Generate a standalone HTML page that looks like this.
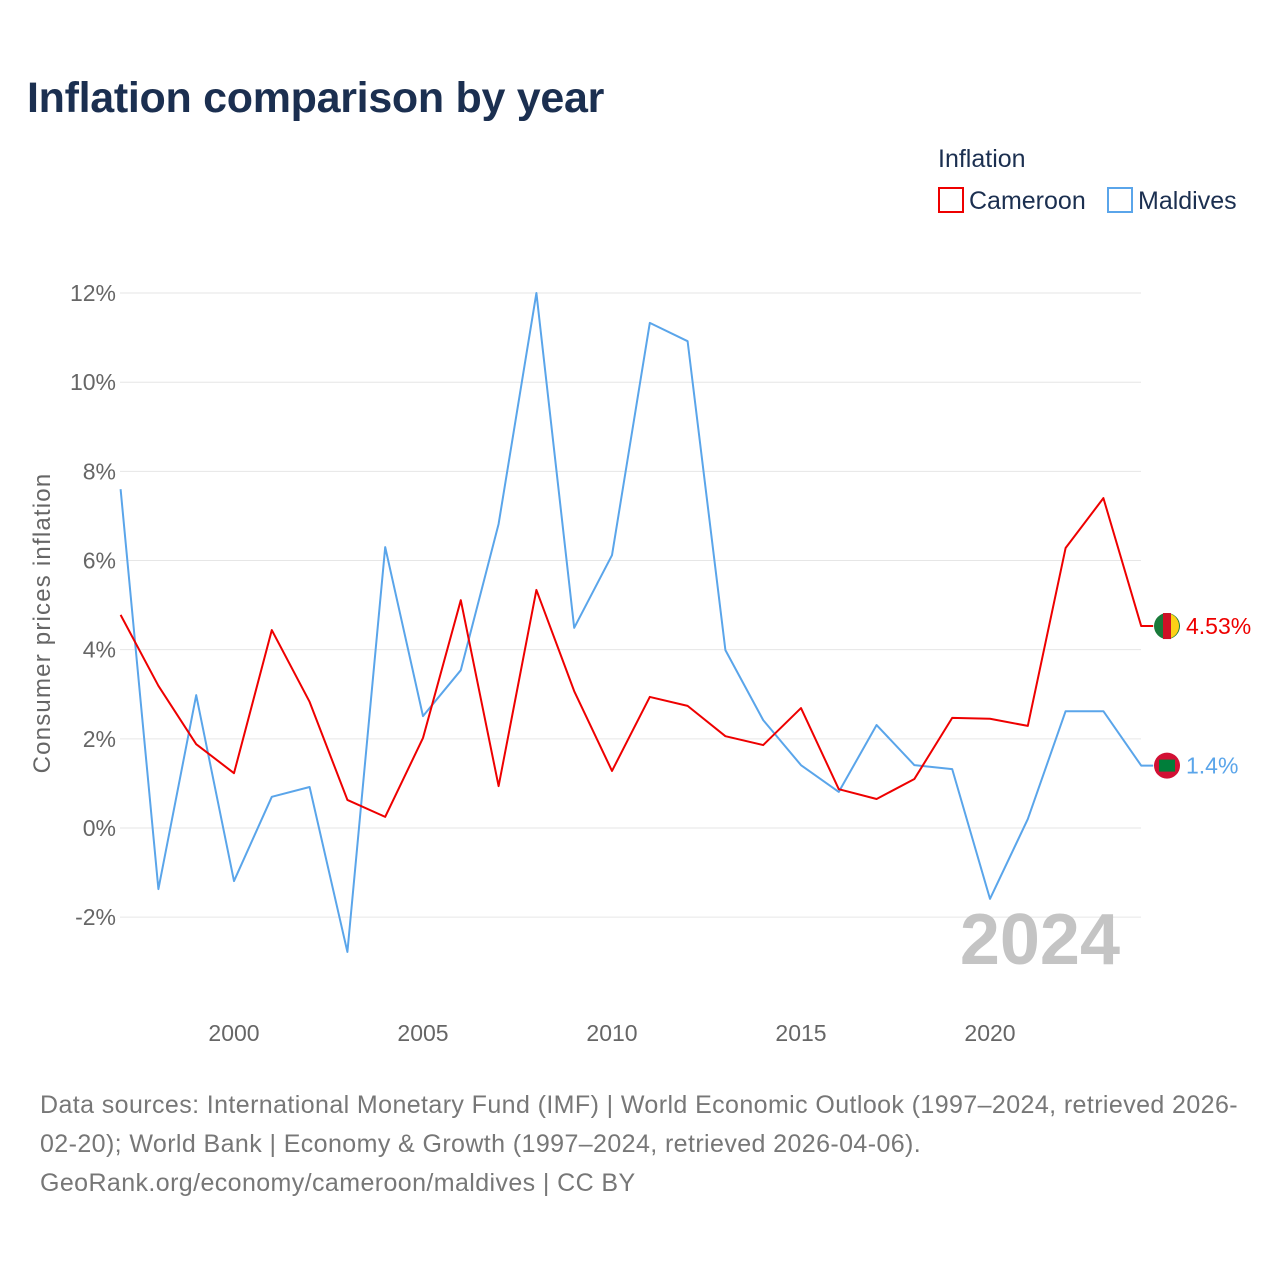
<!DOCTYPE html>
<html><head><meta charset="utf-8"><style>
body{margin:0;background:#fff;width:1280px;height:1280px;overflow:hidden;font-family:"Liberation Sans",sans-serif;}
</style></head><body>
<svg width="1280" height="1280" xmlns="http://www.w3.org/2000/svg">
<text x="27" y="112" font-size="43" font-weight="bold" fill="#1b2f50" letter-spacing="-0.3">Inflation comparison by year</text>
<text x="938" y="167" font-size="25" fill="#1b2f50">Inflation</text>
<g><rect x="939" y="188" width="24" height="24" fill="none" stroke="#ee0000" stroke-width="2"/><text x="969" y="209" font-size="25" fill="#1b2f50">Cameroon</text></g>
<g><rect x="1108" y="188" width="24" height="24" fill="none" stroke="#5aa5ea" stroke-width="2"/><text x="1138" y="209" font-size="25" fill="#1b2f50">Maldives</text></g>
<g id="grid"></g><g id="xt"></g><g id="lines"></g>
<text transform="translate(50,623) rotate(-90)" text-anchor="middle" font-size="24" letter-spacing="1.2" fill="#666">Consumer prices inflation</text>
<text x="1120" y="964" text-anchor="end" font-size="72" font-weight="bold" fill="#c4c4c4">2024</text>
<text font-size="25" letter-spacing="0.4" fill="#777"><tspan x="40" y="1113">Data sources: International Monetary Fund (IMF) | World Economic Outlook (1997–2024, retrieved 2026-</tspan><tspan x="40" y="1152">02-20); World Bank | Economy &amp; Growth (1997–2024, retrieved 2026-04-06).</tspan><tspan x="40" y="1191">GeoRank.org/economy/cameroon/maldives | CC BY</tspan></text>
</svg>
<script>
const years=[1997,1998,1999,2000,2001,2002,2003,2004,2005,2006,2007,2008,2009,2010,2011,2012,2013,2014,2015,2016,2017,2018,2019,2020,2021,2022,2023,2024];
const cameroon=[4.78,3.19,1.88,1.23,4.44,2.83,0.63,0.25,2.02,5.11,0.94,5.34,3.07,1.28,2.94,2.74,2.06,1.86,2.69,0.87,0.65,1.10,2.47,2.45,2.29,6.28,7.40,4.53];
const maldives=[7.60,-1.37,2.98,-1.19,0.70,0.92,-2.78,6.30,2.51,3.54,6.82,12.0,4.49,6.12,11.33,10.92,3.99,2.42,1.41,0.81,2.31,1.41,1.32,-1.59,0.20,2.62,2.62,1.40];
const yTicks=[-2,0,2,4,6,8,10,12];
const xTicks=[2000,2005,2010,2015,2020];
const NS="http://www.w3.org/2000/svg";
const X=v=>120.6+(v-1997)*37.8, Y=v=>828-v*44.58;
function mk(t,a,p){const e=document.createElementNS(NS,t);for(const k in a)e.setAttribute(k,a[k]);p.appendChild(e);return e;}
const g=document.getElementById('grid'),xt=document.getElementById('xt'),L=document.getElementById('lines');
yTicks.forEach(v=>{const l=mk('line',{x1:120,x2:1141,y1:Y(v),y2:Y(v),stroke:'#e6e6e6'},g);


const t=mk('text',{x:116,y:Y(v)+8,'text-anchor':'end','font-size':23,fill:'#666'},g);t.textContent=v+'%';

});
xTicks.forEach(v=>{const t=mk('text',{x:X(v),y:1041,'text-anchor':'middle','font-size':23,fill:'#666'},xt);t.textContent=v;

});
function series(d,c,name,lab){
 const last=d[d.length-1];
 const pts=d.map((v,i)=>X(years[i])+','+Y(v)).join(' ')+' '+(X(2024)+12)+','+Y(last);
 const p=mk('polyline',{points:pts,fill:'none',stroke:c,'stroke-width':2,'stroke-linejoin':'round'},L);
 
 
 const cc=mk('circle',{cx:1167,cy:Y(last),r:13,fill:name==='cameroon'?'#1a7a3a':'#d21034'},L);
 
 
 if(name==='cameroon'){mk('rect',{x:1163,y:Y(last)-13,width:8,height:26,fill:'#ce1126'},L);mk('path',{d:`M1171 ${Y(last)-12} A13 13 0 0 1 1171 ${Y(last)+12}Z`,fill:'#fcd116'},L);}
 else mk('rect',{x:1159,y:Y(last)-6,width:16,height:12,fill:'#007e3a'},L);
 const t=mk('text',{x:1186,y:Y(last)+8,'font-size':23,fill:c},L);t.textContent=lab;
 
 
}
series(maldives,'#5aa5ea','maldives','1.4%');
series(cameroon,'#ee0000','cameroon','4.53%');
</script>
</body></html>
